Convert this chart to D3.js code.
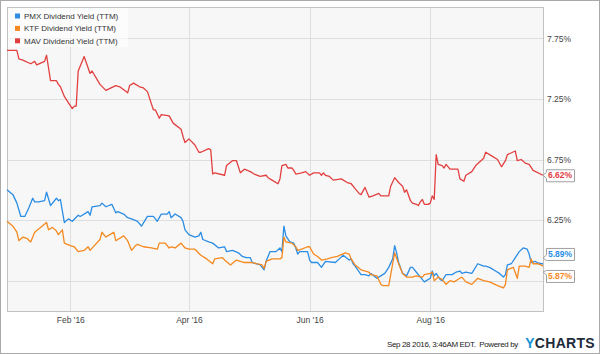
<!DOCTYPE html>
<html>
<head>
<meta charset="utf-8">
<script src="https://cdn.jsdelivr.net/npm/d3@7"></script>
<style>
  body { margin: 0; background: #fff; }
  svg { display: block; font-family: "Liberation Sans", Arial, sans-serif; }
</style>
</head>
<body>
<script>
// dividend yield (TTM)
var pmx = [
  ["2015-12-31",6.50],["2016-01-03",6.46],["2016-01-05",6.39],["2016-01-07",6.28],["2016-01-09",6.28],
  ["2016-01-11",6.35],["2016-01-13",6.43],["2016-01-14",6.40],["2016-01-16",6.40],["2016-01-19",6.41],
  ["2016-01-20",6.48],["2016-01-22",6.37],["2016-01-25",6.43],["2016-01-26",6.41],["2016-01-27",6.42],
  ["2016-01-29",6.23],["2016-01-31",6.26],["2016-02-02",6.24],["2016-02-05",6.29],["2016-02-06",6.28],
  ["2016-02-10",6.32],["2016-02-11",6.29],["2016-02-12",6.36],["2016-02-16",6.37],["2016-02-17",6.39],
  ["2016-02-19",6.36],["2016-02-22",6.38],["2016-02-24",6.31],["2016-02-25",6.32],["2016-02-28",6.30],
  ["2016-03-01",6.27],["2016-03-03",6.26],["2016-03-06",6.24],["2016-03-08",6.20],["2016-03-11",6.28],
  ["2016-03-14",6.28],["2016-03-16",6.24],["2016-03-17",6.27],["2016-03-18",6.30],["2016-03-21",6.30],
  ["2016-03-22",6.32],["2016-03-23",6.27],["2016-03-25",6.30],["2016-03-28",6.27],["2016-03-29",6.24],
  ["2016-03-30",6.17],["2016-04-01",6.13],["2016-04-04",6.11],["2016-04-06",6.12],["2016-04-07",6.15],
  ["2016-04-08",6.09],["2016-04-11",6.07],["2016-04-13",6.06],["2016-04-16",6.02],["2016-04-19",6.03],
  ["2016-04-20",5.99],["2016-04-23",6.00],["2016-04-26",5.98],["2016-04-28",5.95],["2016-04-30",5.94],
  ["2016-05-02",5.94],["2016-05-03",5.90],["2016-05-07",5.88],["2016-05-09",5.84],["2016-05-10",5.91],
  ["2016-05-12",5.99],["2016-05-15",5.99],["2016-05-17",6.02],["2016-05-18",5.99],["2016-05-19",6.20],
  ["2016-05-20",6.12],["2016-05-22",6.07],["2016-05-24",6.06],["2016-05-25",6.02],["2016-05-26",5.97],
  ["2016-05-27",5.99],["2016-05-30",5.99],["2016-05-31",5.99],["2016-06-01",5.92],["2016-06-02",5.90],
  ["2016-06-05",5.90],["2016-06-07",5.86],["2016-06-09",5.91],["2016-06-14",5.90],["2016-06-16",5.93],
  ["2016-06-18",5.96],["2016-06-21",5.92],["2016-06-22",5.93],["2016-06-23",5.89],["2016-06-24",5.87],
  ["2016-06-27",5.80],["2016-06-29",5.80],["2016-07-01",5.79],["2016-07-02",5.81],["2016-07-05",5.77],
  ["2016-07-07",5.79],["2016-07-09",5.81],["2016-07-11",5.86],["2016-07-13",5.93],["2016-07-14",6.04],
  ["2016-07-15",5.98],["2016-07-16",5.90],["2016-07-18",5.81],["2016-07-20",5.79],["2016-07-22",5.86],
  ["2016-07-23",5.86],["2016-07-25",5.82],["2016-07-27",5.78],["2016-07-29",5.74],["2016-08-01",5.77],
  ["2016-08-02",5.83],["2016-08-03",5.79],["2016-08-04",5.81],["2016-08-06",5.76],["2016-08-07",5.75],
  ["2016-08-09",5.80],["2016-08-12",5.80],["2016-08-14",5.82],["2016-08-16",5.83],["2016-08-17",5.81],
  ["2016-08-19",5.82],["2016-08-22",5.81],["2016-08-25",5.89],["2016-08-28",5.87],["2016-08-29",5.87],
  ["2016-08-31",5.86],["2016-09-03",5.83],["2016-09-05",5.81],["2016-09-07",5.78],["2016-09-08",5.80],
  ["2016-09-09",5.88],["2016-09-11",5.89],["2016-09-13",5.94],["2016-09-15",5.99],["2016-09-17",6.02],
  ["2016-09-19",6.01],["2016-09-20",5.97],["2016-09-21",5.90],["2016-09-23",5.91],["2016-09-24",5.90],
  ["2016-09-26",5.89],["2016-09-27",5.89]
];

var ktf = [
  ["2015-12-31",6.24],["2016-01-03",6.20],["2016-01-05",6.15],["2016-01-06",6.08],["2016-01-08",6.11],
  ["2016-01-10",6.10],["2016-01-12",6.07],["2016-01-14",6.15],["2016-01-20",6.23],["2016-01-21",6.17],
  ["2016-01-23",6.19],["2016-01-25",6.16],["2016-01-26",6.13],["2016-01-28",6.17],["2016-01-29",6.06],
  ["2016-02-01",6.04],["2016-02-03",6.03],["2016-02-05",5.99],["2016-02-08",6.00],["2016-02-10",6.03],
  ["2016-02-11",6.00],["2016-02-16",6.09],["2016-02-17",6.15],["2016-02-19",6.11],["2016-02-21",6.13],
  ["2016-02-23",6.15],["2016-02-24",6.08],["2016-02-25",6.09],["2016-02-28",6.12],["2016-03-01",6.08],
  ["2016-03-03",6.00],["2016-03-05",6.04],["2016-03-06",6.05],["2016-03-09",6.03],["2016-03-13",6.02],
  ["2016-03-16",6.01],["2016-03-17",6.06],["2016-03-20",6.06],["2016-03-22",6.02],["2016-03-23",6.03],
  ["2016-03-25",6.02],["2016-03-28",6.06],["2016-03-30",6.02],["2016-04-01",6.01],["2016-04-04",6.01],
  ["2016-04-07",5.96],["2016-04-10",5.93],["2016-04-13",5.89],["2016-04-14",5.93],["2016-04-18",5.94],
  ["2016-04-19",5.92],["2016-04-22",5.88],["2016-04-25",5.92],["2016-04-29",5.90],["2016-05-03",5.90],
  ["2016-05-05",5.89],["2016-05-08",5.88],["2016-05-09",5.85],["2016-05-10",5.91],["2016-05-13",5.93],
  ["2016-05-17",5.93],["2016-05-18",5.94],["2016-05-19",6.11],["2016-05-20",6.07],["2016-05-23",6.06],
  ["2016-05-25",6.03],["2016-05-26",6.00],["2016-05-28",6.01],["2016-05-31",6.03],["2016-06-01",6.03],
  ["2016-06-03",5.97],["2016-06-05",5.95],["2016-06-07",5.92],["2016-06-10",5.93],["2016-06-12",5.94],
  ["2016-06-15",5.95],["2016-06-19",5.98],["2016-06-21",5.97],["2016-06-22",5.93],["2016-06-24",5.88],
  ["2016-06-27",5.84],["2016-07-01",5.82],["2016-07-02",5.80],["2016-07-05",5.79],["2016-07-07",5.72],
  ["2016-07-08",5.71],["2016-07-11",5.71],["2016-07-14",5.98],["2016-07-16",5.89],["2016-07-18",5.81],
  ["2016-07-20",5.78],["2016-07-23",5.78],["2016-07-25",5.79],["2016-07-28",5.78],["2016-07-29",5.80],
  ["2016-08-01",5.81],["2016-08-02",5.82],["2016-08-03",5.75],["2016-08-05",5.78],["2016-08-07",5.76],
  ["2016-08-09",5.72],["2016-08-11",5.75],["2016-08-13",5.74],["2016-08-15",5.76],["2016-08-17",5.78],
  ["2016-08-19",5.74],["2016-08-22",5.72],["2016-08-25",5.77],["2016-08-28",5.75],["2016-08-31",5.74],
  ["2016-09-04",5.71],["2016-09-07",5.69],["2016-09-08",5.72],["2016-09-09",5.84],["2016-09-12",5.86],
  ["2016-09-14",5.77],["2016-09-15",5.87],["2016-09-18",5.87],["2016-09-20",5.86],["2016-09-21",5.93],
  ["2016-09-22",5.89],["2016-09-24",5.89],["2016-09-26",5.88],["2016-09-27",5.87]
];

var mav = [
  ["2015-12-31",7.65],["2016-01-05",7.65],["2016-01-06",7.58],["2016-01-08",7.57],["2016-01-12",7.54],
  ["2016-01-14",7.56],["2016-01-15",7.53],["2016-01-19",7.56],["2016-01-20",7.61],["2016-01-22",7.40],
  ["2016-01-25",7.40],["2016-01-26",7.37],["2016-01-27",7.35],["2016-01-29",7.27],["2016-01-31",7.22],
  ["2016-02-02",7.17],["2016-02-03",7.19],["2016-02-04",7.19],["2016-02-05",7.48],["2016-02-06",7.52],
  ["2016-02-08",7.60],["2016-02-11",7.46],["2016-02-12",7.48],["2016-02-16",7.37],["2016-02-19",7.32],
  ["2016-02-24",7.36],["2016-02-26",7.35],["2016-03-01",7.30],["2016-03-02",7.36],["2016-03-04",7.38],
  ["2016-03-07",7.35],["2016-03-09",7.34],["2016-03-11",7.31],["2016-03-14",7.16],["2016-03-15",7.16],
  ["2016-03-17",7.09],["2016-03-18",7.12],["2016-03-22",7.11],["2016-03-24",7.05],["2016-03-28",7.00],
  ["2016-03-29",6.94],["2016-03-30",6.89],["2016-04-01",6.92],["2016-04-04",6.87],["2016-04-06",6.81],
  ["2016-04-07",6.81],["2016-04-11",6.84],["2016-04-12",6.83],["2016-04-13",6.63],["2016-04-14",6.64],
  ["2016-04-19",6.62],["2016-04-20",6.70],["2016-04-23",6.74],["2016-04-25",6.74],["2016-04-27",6.64],
  ["2016-04-29",6.67],["2016-05-02",6.65],["2016-05-04",6.63],["2016-05-07",6.61],["2016-05-10",6.62],
  ["2016-05-11",6.60],["2016-05-13",6.58],["2016-05-16",6.55],["2016-05-17",6.59],["2016-05-18",6.70],
  ["2016-05-20",6.71],["2016-05-21",6.68],["2016-05-23",6.68],["2016-05-24",6.66],["2016-05-25",6.63],
  ["2016-05-28",6.64],["2016-05-30",6.65],["2016-06-01",6.62],["2016-06-03",6.64],["2016-06-06",6.64],
  ["2016-06-07",6.62],["2016-06-08",6.64],["2016-06-09",6.62],["2016-06-11",6.61],["2016-06-13",6.58],
  ["2016-06-17",6.59],["2016-06-20",6.56],["2016-06-22",6.55],["2016-06-24",6.51],["2016-06-26",6.47],
  ["2016-06-27",6.46],["2016-06-29",6.52],["2016-07-01",6.44],["2016-07-03",6.45],["2016-07-06",6.47],
  ["2016-07-07",6.45],["2016-07-11",6.45],["2016-07-12",6.53],["2016-07-14",6.60],["2016-07-16",6.56],
  ["2016-07-18",6.53],["2016-07-19",6.48],["2016-07-20",6.50],["2016-07-22",6.41],["2016-07-23",6.39],
  ["2016-07-25",6.38],["2016-07-26",6.37],["2016-07-27",6.40],["2016-07-28",6.42],["2016-07-29",6.38],
  ["2016-07-31",6.38],["2016-08-01",6.39],["2016-08-02",6.45],["2016-08-03",6.42],["2016-08-04",6.79],
  ["2016-08-05",6.71],["2016-08-07",6.70],["2016-08-08",6.68],["2016-08-09",6.71],["2016-08-11",6.67],
  ["2016-08-13",6.67],["2016-08-15",6.67],["2016-08-16",6.59],["2016-08-18",6.57],["2016-08-19",6.62],
  ["2016-08-22",6.65],["2016-08-24",6.70],["2016-08-28",6.76],["2016-08-29",6.81],["2016-08-31",6.79],
  ["2016-09-04",6.75],["2016-09-06",6.69],["2016-09-08",6.74],["2016-09-09",6.79],["2016-09-13",6.82],
  ["2016-09-14",6.74],["2016-09-16",6.75],["2016-09-18",6.72],["2016-09-20",6.71],["2016-09-22",6.66],
  ["2016-09-27",6.62]
];

var seriesNames = ["PMX Dividend Yield (TTM)", "KTF Dividend Yield (TTM)", "MAV Dividend Yield (TTM)"];
var yTicks = [5.75, 6.25, 6.75, 7.25, 7.75];
var xTicks = ["2016-02-01", "2016-04-01", "2016-06-01", "2016-08-01"];
var stamp = "Sep 28 2016, 3:46AM EDT.\u00a0 Powered by";

var colors = ["#2b8de4", "#f5891f", "#e2403f"];
var W = 600, H = 354;
var L = 7, R = 543, T = 7, B = 311;
var parse = d3.timeParse("%Y-%m-%d");

var svg = d3.select("body").append("svg")
  .attr("width", W)
  .attr("height", H);

// outer frame + plot box
svg.append("rect")
  .attr("x", 0.5).attr("y", 0.5).attr("width", W - 1).attr("height", H - 1)
  .attr("fill", "#fff").attr("stroke", "#aaa");
svg.append("rect")
  .attr("x", L + 0.5).attr("y", T + 0.5).attr("width", R - L).attr("height", B - T)
  .attr("fill", "#f7f7f7").attr("stroke", "#c2c2c2");

var x = d3.scaleTime()
  .domain([parse("2015-12-31"), parse("2016-09-27")])
  .range([L, R]);
var y = d3.scaleLinear()
  .domain([5.5, 8.0])
  .range([B, 8]);

// grid
svg.selectAll("hgrid")
  .data(yTicks)
  .enter()
  .append("line")
  .attr("x1", L + 1).attr("x2", R)
  .attr("y1", function (d) { return Math.round(y(d)) + 0.5 })
  .attr("y2", function (d) { return Math.round(y(d)) + 0.5 })
  .attr("stroke", "#dedede");
svg.selectAll("vgrid")
  .data(xTicks)
  .enter()
  .append("line")
  .attr("x1", function (d) { return Math.round(x(parse(d))) + 0.5 })
  .attr("x2", function (d) { return Math.round(x(parse(d))) + 0.5 })
  .attr("y1", T + 1).attr("y2", B)
  .attr("stroke", "#dedede");

// lines
var line = d3.line()
  .x(function (d) { return x(parse(d[0])) })
  .y(function (d) { return y(d[1]) });

var all = [pmx, ktf, mav];
all.forEach(function (s, i) {
  svg.append("path")
    .datum(s)
    .attr("d", line)
    .attr("fill", "none")
    .attr("stroke", colors[i])
    .attr("stroke-width", 1.3)
    .attr("stroke-linejoin", "round");
});

// last-value badges, pushed apart if they collide
var badges = all.map(function (s, i) {
  var v = s[s.length - 1][1];
  return { v: v, y: y(v), by: y(v), c: colors[i] };
}).sort(function (a, b) { return a.y - b.y });
var gap = 22;
for (var i = 1; i < badges.length; i++) {
  var a = badges[i - 1], b = badges[i];
  if (b.by - a.by < gap) {
    var mid = (a.by + b.by) / 2;
    a.by = mid - gap / 2;
    b.by = mid + gap / 2;
  }
}

// x axis
var xAxis = svg.append("g")
  .attr("transform", "translate(0," + B + ")")
  .call(d3.axisBottom(x)
    .tickValues(xTicks.map(parse))
    .tickFormat(d3.timeFormat("%b '%y"))
    .tickSize(0)
    .tickPadding(5.5));
xAxis.select(".domain").remove();
xAxis.selectAll("text")
  .attr("fill", "#444")
  .style("font-size", "8.5px")
  .style("font-family", "'Liberation Sans', Arial, sans-serif");

// y axis on the right, labels hidden under badges are dropped
var yAxis = svg.append("g")
  .attr("transform", "translate(" + R + ",0)")
  .call(d3.axisRight(y)
    .tickValues(yTicks.filter(function (t) {
      return !badges.some(function (b) { return Math.abs(b.by - y(t)) < 10 });
    }))
    .tickFormat(function (d) { return d.toFixed(2) + "%" })
    .tickSize(0)
    .tickPadding(4));
yAxis.select(".domain").remove();
yAxis.selectAll("text")
  .attr("fill", "#444")
  .style("font-size", "8.5px")
  .style("font-family", "'Liberation Sans', Arial, sans-serif");

var bx = 546, bw = 28, bh = 12;
badges.forEach(function (b) {
  var top = b.by - bh / 2;
  var py = Math.max(top + 2, Math.min(top + bh - 2, b.y));
  var g = svg.append("g");
  g.append("path")
    .attr("d", "M" + (bx + 0.5) + "," + (top + 0.5) +
      "H" + (bx + bw + 0.5) + "V" + (top + bh + 0.5) + "H" + (bx + 0.5) +
      "V" + Math.min(top + bh + 0.5, py + 3) + "L" + (bx - 3) + "," + py +
      "L" + (bx + 0.5) + "," + Math.max(top + 0.5, py - 3) + "Z")
    .attr("fill", "#fff")
    .attr("stroke", "#a0a0a0");
  g.append("text")
    .attr("x", bx + 2)
    .attr("y", b.by + 3.2)
    .attr("fill", b.c)
    .style("font-size", "8.5px")
    .style("font-weight", "bold")
    .text(b.v.toFixed(2) + "%");
});

// legend
svg.append("rect")
  .attr("x", L + 1).attr("y", T + 1).attr("width", 120).attr("height", 39)
  .attr("fill", "#fff").attr("fill-opacity", 0.6);
var leg = svg.selectAll("legend")
  .data(seriesNames)
  .enter()
  .append("g")
  .attr("transform", function (d, i) { return "translate(15," + (16 + i * 12.4) + ")" });
leg.append("rect")
  .attr("x", 0).attr("y", -2.5).attr("width", 5).attr("height", 5)
  .attr("fill", function (d, i) { return colors[i] });
leg.append("text")
  .attr("x", 9).attr("y", 3)
  .attr("fill", "#333")
  .style("font-size", "8px")
  .text(function (d) { return d });

// footer
svg.append("text")
  .attr("x", 518).attr("y", 347)
  .attr("text-anchor", "end")
  .attr("fill", "#222")
  .style("font-size", "8px")
  .style("letter-spacing", "-0.35px")
  .text(stamp);
var logo = svg.append("text")
  .attr("x", 595).attr("y", 347.5)
  .attr("text-anchor", "end")
  .style("font-size", "14px")
  .style("font-weight", "bold")
  .style("letter-spacing", "0.3px");
logo.append("tspan").attr("fill", "#1593d8").text("Y");
logo.append("tspan").attr("fill", "#1d2b3b").text("CHARTS");
</script>
</body>
</html>
